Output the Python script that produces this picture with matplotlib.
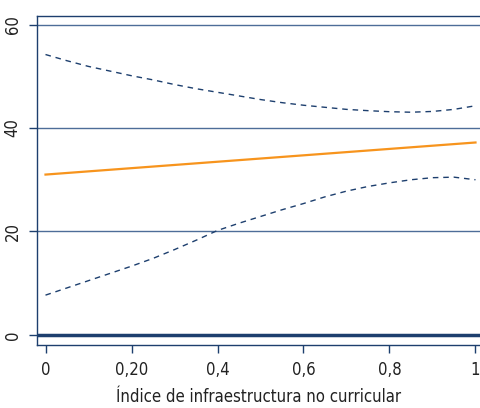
import numpy as np
import matplotlib.pyplot as plt

# indice de infraestructura no curricular
x = [0, 0.05, 0.1, 0.15, 0.2, 0.25, 0.3, 0.35, 0.4, 0.45, 0.5,
     0.55, 0.6, 0.65, 0.7, 0.75, 0.8, 0.85, 0.9, 0.95, 1.0]
ic_sup = [54.2, 53.0, 51.9, 51.0, 50.1, 49.3, 48.4, 47.6, 46.9, 46.2, 45.5,
          44.9, 44.4, 44.0, 43.6, 43.35, 43.15, 43.05, 43.2, 43.6, 44.3]
ic_inf = [7.7, 9.1, 10.5, 11.9, 13.3, 14.8, 16.5, 18.3, 20.2, 21.6, 22.9,
          24.2, 25.4, 26.7, 27.8, 28.7, 29.4, 30.0, 30.4, 30.5, 30.0]
ajuste_x = [0, 1]
ajuste_y = [31.0, 37.2]

xticks = [0, 0.2, 0.4, 0.6, 0.8, 1.0]
xticklabels = ['0', '0,20', '0,4', '0,6', '0,8', '1']
yticks = [0, 20, 40, 60]

azul = '#1d3f6e'
plt.rcParams['font.family'] = ['DejaVu Sans']
plt.rcParams['font.stretch'] = 'condensed'

fig = plt.figure(figsize=(4.81, 4.08), dpi=100)
ax = fig.add_axes([0.0769, 0.1556, 0.9231, 0.8064])

for v in yticks[1:]:
    ax.axhline(v, color='#4d6d98', lw=1.0, zorder=1)
ax.axhline(0, color=azul, lw=2.5, zorder=1)

ax.plot(x, ic_sup, color=azul, lw=1.0, ls=(0, (4, 3.5)), zorder=3)
ax.plot(x, ic_inf, color=azul, lw=1.0, ls=(0, (4, 3.5)), zorder=3)
ax.plot(ajuste_x, ajuste_y, color='#f7941d', lw=1.6, zorder=4)

ax.set_xlim(-0.0198, 1.0128)
ax.set_ylim(-1.84, 61.74)
ax.set_xticks(xticks)
ax.set_xticklabels(xticklabels)
ax.set_yticks(yticks)
ax.set_yticklabels([str(v) for v in yticks], rotation=90, va='center')

for s in ['left', 'bottom', 'top']:
    ax.spines[s].set_color(azul)
    ax.spines[s].set_linewidth(1.0)
ax.spines['right'].set_visible(False)
ax.tick_params(axis='both', direction='out', length=6, width=1, color=azul,
               labelsize=12, labelcolor='#222222')
ax.tick_params(axis='x', pad=6)
ax.tick_params(axis='y', pad=5)
ax.set_xlabel('Índice de infraestructura no curricular', fontsize=12,
              color='#222222', labelpad=6)

fig.savefig('out.png', dpi=100)
